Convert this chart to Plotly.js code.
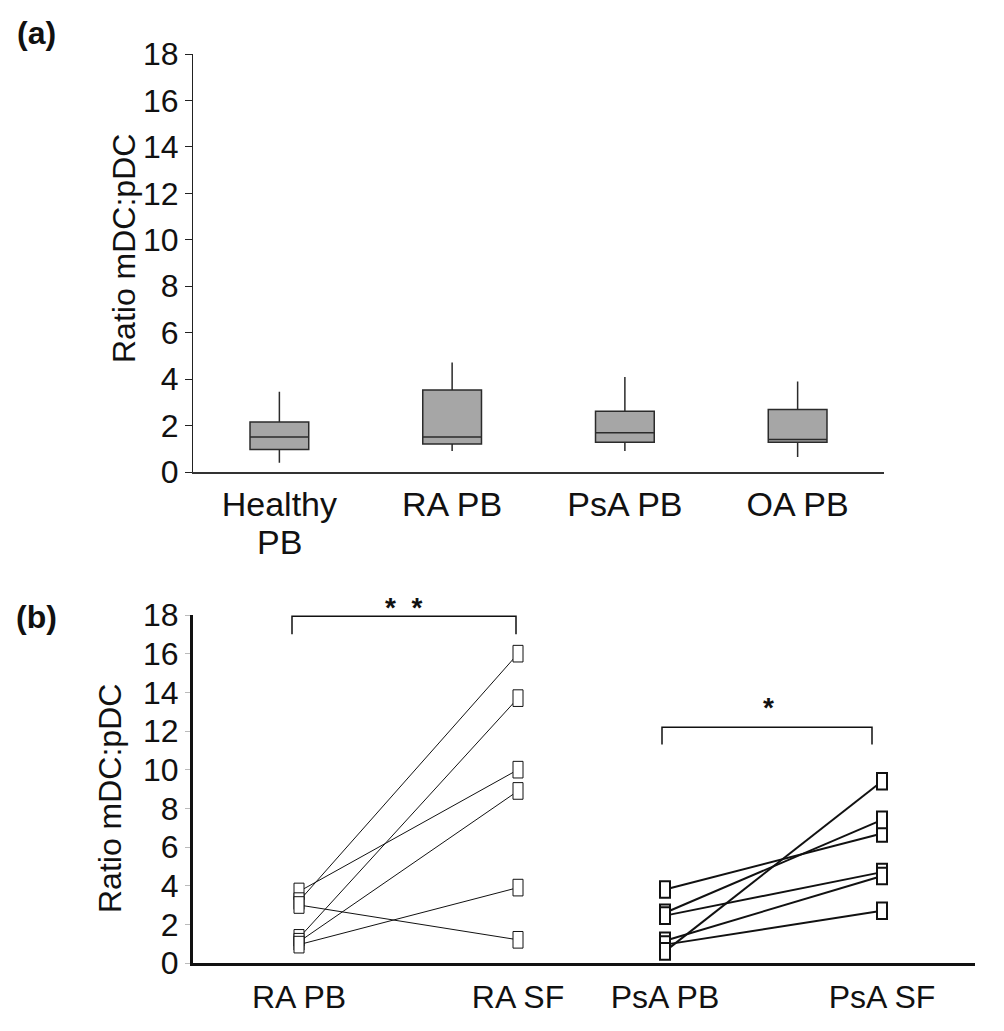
<!DOCTYPE html>
<html>
<head>
<meta charset="utf-8">
<script src="https://cdn.plot.ly/plotly-3.0.1.min.js"></script>
<style>
  html, body { margin: 0; padding: 0; background: #fff; }
  #chart { width: 1004px; height: 1031px; }
</style>
</head>
<body>
<div id="chart"></div>
<script>
// (a) box summaries
const boxCats = ["Healthy PB", "RA PB", "PsA PB", "OA PB"];
const boxTick = ["Healthy", "RA PB", "PsA PB", "OA PB"];   // first line of each label
const boxTick2 = ["PB", "", "", ""];                        // second line (only Healthy has one)
const boxLow  = [0.40, 0.90, 0.90, 0.65];
const boxQ1   = [0.97, 1.21, 1.28, 1.28];
const boxMed  = [1.51, 1.51, 1.69, 1.40];
const boxQ3   = [2.15, 3.53, 2.62, 2.69];
const boxHigh = [3.46, 4.71, 4.09, 3.90];

// (b) paired samples, one entry per patient
const pairCats = ["RA PB", "RA SF", "PsA PB", "PsA SF"];
const raPB  = [3.7, 3.2, 3.0, 1.3, 1.1, 0.95];
const raSF  = [10.0, 16.0, 1.2, 13.7, 8.9, 3.9];
const psaPB = [3.8, 2.6, 2.45, 1.15, 0.95, 0.6];
const psaSF = [6.7, 7.4, 4.7, 4.5, 2.7, 9.4];

// where the four groups of (b) sit on its x axis (layout only)
const pairX = [1.06, 3.25, 4.72, 6.89];

const FONT = "Liberation Sans, Arial, sans-serif";
const H = 1031, W = 1004;

let data = [];

// panel (a)
data.push({
    type: "box",
    x: boxCats,
    q1: boxQ1, median: boxMed, q3: boxQ3,
    lowerfence: boxLow, upperfence: boxHigh,
    fillcolor: "#a6a6a6",
    line: {color: "#2b2b2b", width: 1.5},
    whiskerwidth: 0,
    width: 0.34,
    boxpoints: false,
    hoverinfo: "skip",
    xaxis: "x", yaxis: "y"
});

// panel (b) - one line per patient
let shapes = [];
function addPairs(pb, sf, x0, x1, lw){
    for (let i = 0; i < pb.length; i++){
        data.push({
            type: "scatter", mode: "lines",
            x: [x0, x1], y: [pb[i], sf[i]],
            line: {color: "#111", width: lw},
            hoverinfo: "skip",
            xaxis: "x2", yaxis: "y2"
        });
    }
    // hollow upright rectangles used as markers
    [[x0, pb], [x1, sf]].forEach(function(g){
        g[1].forEach(function(v){
            shapes.push({
                type: "rect", xref: "x2", yref: "y2", layer: "above",
                x0: g[0] - 0.05, x1: g[0] + 0.05,
                y0: v - 0.43, y1: v + 0.43,
                fillcolor: "#fff",
                line: {color: "#111", width: lw}
            });
        });
    });
}
addPairs(raPB, raSF, pairX[0], pairX[1], 1);
addPairs(psaPB, psaSF, pairX[2], pairX[3], 2);

// significance brackets
function bracket(xa, xb, lo, hi){
    return {type: "path", xref: "x2", yref: "y2", layer: "above",
        path: "M" + xa + "," + lo + " L" + xa + "," + hi + " L" + xb + "," + hi + " L" + xb + "," + lo,
        line: {color: "#111", width: 1.5}};
}
shapes.push(bracket(pairX[0] - 0.07, pairX[1] - 0.02, 17.0, 17.93));
shapes.push(bracket(pairX[2] - 0.03, pairX[3] - 0.1, 11.3, 12.2));

let annotations = [
    {text: "<b>(a)</b>", xref: "paper", yref: "paper", x: 36 / W, y: (H - 33) / H,
     xanchor: "center", yanchor: "middle",
     showarrow: false, font: {size: 32, family: FONT, color: "#111"}},
    {text: "<b>(b)</b>", xref: "paper", yref: "paper", x: 36 / W, y: (H - 617) / H,
     xanchor: "center", yanchor: "middle",
     showarrow: false, font: {size: 32, family: FONT, color: "#111"}},
    {text: "Ratio mDC:pDC", xref: "paper", yref: "paper", x: 124 / W, y: (H - 249) / H,
     xanchor: "center", yanchor: "middle", textangle: -90,
     showarrow: false, font: {size: 32, family: FONT, color: "#111"}},
    {text: "Ratio mDC:pDC", xref: "paper", yref: "paper", x: 110 / W, y: (H - 799) / H,
     xanchor: "center", yanchor: "middle", textangle: -90,
     showarrow: false, font: {size: 32, family: FONT, color: "#111"}},
    {text: "<b>*  *</b>", xref: "x2", yref: "paper", x: (pairX[0] + pairX[1]) / 2 - 0.05, y: (H - 607) / H,
     xanchor: "center", yanchor: "middle",
     showarrow: false, font: {size: 28, family: FONT, color: "#111"}},
    {text: "<b>*</b>", xref: "x2", yref: "paper", x: (pairX[2] + pairX[3]) / 2 - 0.05, y: (H - 707) / H,
     xanchor: "center", yanchor: "middle",
     showarrow: false, font: {size: 28, family: FONT, color: "#111"}}
];
// second line of the category labels in (a)
boxTick2.forEach(function(t, i){
    if (t) annotations.push({text: t, xref: "x", yref: "paper", x: i, y: (H - 542) / H,
        xanchor: "center", yanchor: "middle", showarrow: false,
        font: {size: 34, family: FONT, color: "#111"}});
});

let layout = {
    width: W, height: H,
    margin: {l: 0, r: 0, t: 0, b: 0},
    paper_bgcolor: "#fff", plot_bgcolor: "#fff",
    showlegend: false,
    font: {family: FONT, color: "#111"},
    xaxis: {
        domain: [193 / W, 884 / W],
        type: "category", range: [-0.5, 3.5],
        tickvals: boxCats, ticktext: boxTick,
        showline: true, linecolor: "#333", linewidth: 1.5,
        ticks: "", showgrid: false, zeroline: false,
        tickfont: {size: 34, family: FONT, color: "#111"},
        ticklabelstandoff: 2,
        anchor: "y", automargin: false, fixedrange: true
    },
    yaxis: {
        domain: [(H - 472) / H, (H - 54) / H],
        range: [0, 18], dtick: 2,
        showline: true, linecolor: "#222", linewidth: 1,
        ticks: "outside", ticklen: 7, tickcolor: "#222",
        showgrid: false, zeroline: false,
        tickfont: {size: 32, family: FONT, color: "#111"},
        anchor: "x", automargin: false, fixedrange: true
    },
    xaxis2: {
        domain: [193 / W, 975 / W],
        range: [0, 7.82],
        tickvals: pairX, ticktext: pairCats,
        showline: true, linecolor: "#111", linewidth: 3,
        ticks: "", showgrid: false, zeroline: false,
        tickfont: {size: 32, family: FONT, color: "#111"},
        ticklabelstandoff: 4,
        anchor: "y2", automargin: false, fixedrange: true
    },
    yaxis2: {
        domain: [(H - 963) / H, (H - 615) / H],
        range: [0, 18], dtick: 2,
        showline: true, linecolor: "#111", linewidth: 3,
        ticks: "outside", ticklen: 5, tickcolor: "#bbb",
        showgrid: false, zeroline: false,
        tickfont: {size: 32, family: FONT, color: "#111"},
        anchor: "x2", automargin: false, fixedrange: true
    },
    shapes: shapes,
    annotations: annotations
};

Plotly.newPlot("chart", data, layout, {displayModeBar: false, staticPlot: true});
</script>
</body>
</html>
